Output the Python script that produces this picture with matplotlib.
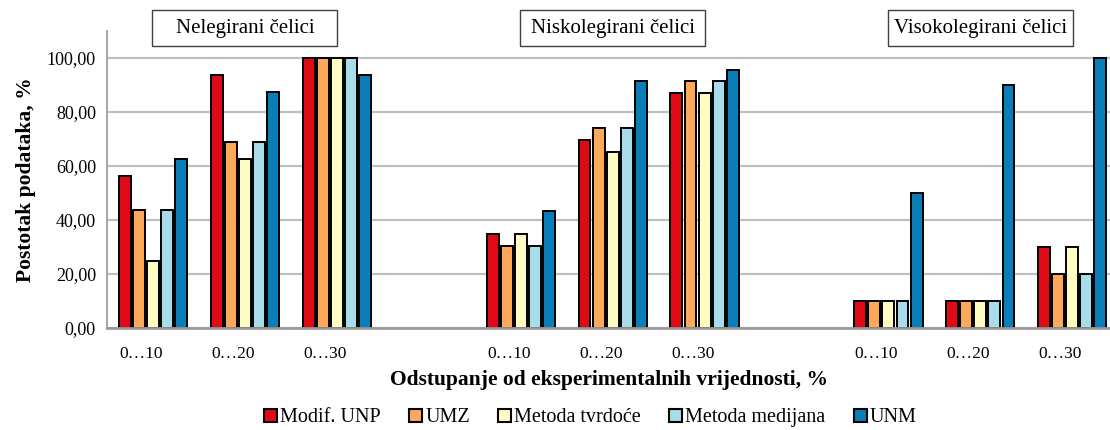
import matplotlib
matplotlib.use("Agg")
import matplotlib.pyplot as plt
import matplotlib.transforms as mtransforms
from matplotlib.patches import Patch, Rectangle
import numpy as np

plt.rcParams['font.family'] = ['Liberation Serif', 'DejaVu Serif']

# --- data ---
groups = ["Nelegirani čelici", "Niskolegirani čelici", "Visokolegirani čelici"]
ranges = ["0…10", "0…20", "0…30"]
series = ["Modif. UNP", "UMZ", "Metoda tvrdoće", "Metoda medijana", "UNM"]
colors = ["#E00A17", "#FDA95C", "#FFFDC2", "#A9DCEA", "#0A7EB8"]

modif_unp = [56.25, 93.75, 100.0, 34.78, 69.57, 86.96, 10.0, 10.0, 30.0]
umz = [43.75, 68.75, 100.0, 30.43, 73.91, 91.30, 10.0, 10.0, 20.0]
tvrdoce = [25.0, 62.5, 100.0, 34.78, 65.22, 86.96, 10.0, 10.0, 30.0]
medijana = [43.75, 68.75, 100.0, 30.43, 73.91, 91.30, 10.0, 10.0, 20.0]
unm = [62.5, 87.5, 93.75, 43.48, 91.30, 95.65, 50.0, 90.0, 100.0]
values = [modif_unp, umz, tvrdoce, medijana, unm]

# category slots: 3 per group with one empty slot between groups
pos = np.array([g * 4 + r for g in range(len(groups)) for r in range(len(ranges))])
labels = ranges * len(groups)

fig = plt.figure(figsize=(11.1, 4.3), dpi=100)
ax = fig.add_axes([107 / 1110, (430 - 328) / 430, 1 - 107 / 1110, (328 - 31) / 430])

w = 0.13
step = 0.153
for k, (vals, c) in enumerate(zip(values, colors)):
    ax.bar(pos + (k - 2) * step, vals, width=w, color=c, edgecolor="black",
           linewidth=1.4, zorder=3)

ax.set_xlim(-0.5, 10.41)
ax.set_ylim(0, 110)
ax.set_yticks(np.arange(0, 101, 20))
ax.set_yticklabels([f"{v:.2f}".replace(".", ",") for v in np.arange(0, 101, 20)],
                   fontsize=13)
# labels sit a bit left of the bar clusters in the original
ax.set_xticks(pos - 0.13)
ax.set_xticklabels(labels, fontsize=12.5)
ax.tick_params(axis="both", length=0)
ax.tick_params(axis="x", pad=13)
ax.tick_params(axis="y", pad=8)

ax.grid(axis="y", color="#C0C0C0", linewidth=1.6, zorder=0)
ax.grid(axis="x", visible=False)
for s in ["top", "right"]:
    ax.spines[s].set_visible(False)
ax.spines["left"].set_color("#A6A6A6")
ax.spines["left"].set_linewidth(1.4)
ax.spines["bottom"].set_color("#9A9A9A")
ax.spines["bottom"].set_linewidth(2)
ax.spines["bottom"].set_zorder(4)

ax.set_ylabel("Postotak podataka, %", fontsize=15.5, fontweight="bold", labelpad=8)
ax.set_xlabel("Odstupanje od eksperimentalnih vrijednosti, %", fontsize=15.5,
              fontweight="bold", labelpad=6)

# group title boxes
trans = mtransforms.blended_transform_factory(ax.transData, ax.transAxes)
bw = 185 / 92
for g, name in enumerate(groups):
    cx = g * 4 + 1
    ax.add_patch(Rectangle((cx - bw / 2, 0.949), bw, 0.122, transform=trans,
                           facecolor="white", edgecolor="#404040", linewidth=1,
                           clip_on=False, zorder=5))
    ax.text(cx, 1.01, name, transform=trans, ha="center", va="center",
            fontsize=15, zorder=6)

handles = [Patch(facecolor=c, edgecolor="black", linewidth=1.5) for c in colors]
fig.legend(handles, series, loc="center", bbox_to_anchor=(0.532, 0.028), ncol=5,
           frameon=False, fontsize=14.5, handlelength=0.65, handleheight=0.65,
           handletextpad=0.15, columnspacing=1.4)

fig.savefig("out.png", dpi=100)
